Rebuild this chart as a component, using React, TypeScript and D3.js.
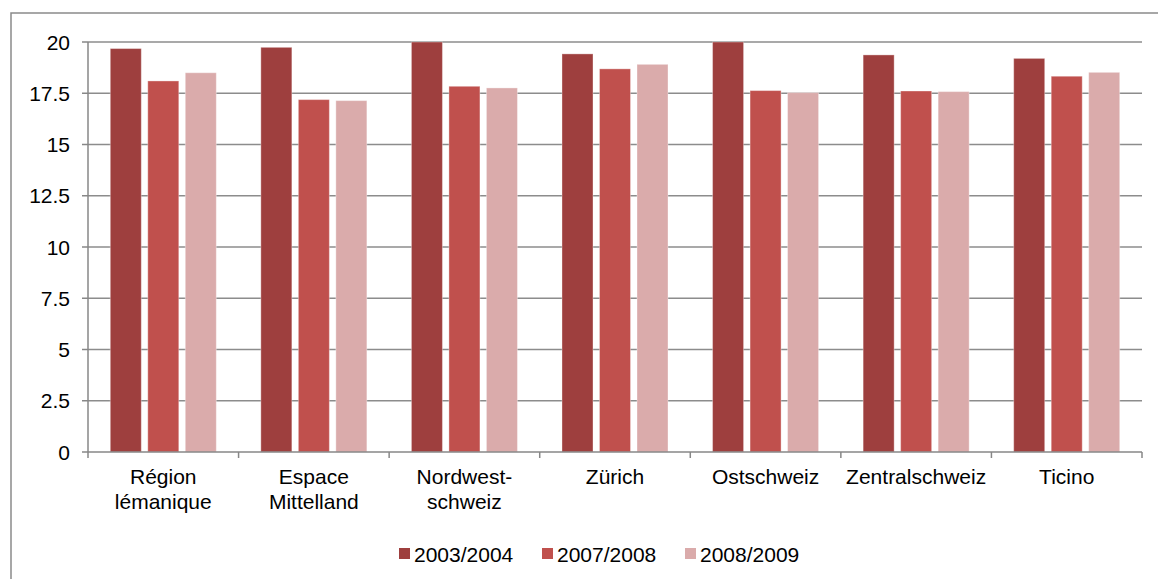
import React, { useEffect, useRef } from 'react';
import * as d3 from 'd3';

const regions = [
  ['Région', 'lémanique'],
  ['Espace', 'Mittelland'],
  ['Nordwest-', 'schweiz'],
  ['Zürich'],
  ['Ostschweiz'],
  ['Zentralschweiz'],
  ['Ticino']
];
const seriesNames = ['2003/2004', '2007/2008', '2008/2009'];
const seriesColors = ['#9e3f3e', '#c0504d', '#daabab'];
const v2003 = [19.68, 19.74, 20, 19.42, 20, 19.37, 19.2];
const v2007 = [18.1, 17.19, 17.84, 18.69, 17.63, 17.61, 18.33];
const v2008 = [18.5, 17.14, 17.76, 18.91, 17.53, 17.58, 18.52];
const yTicks = [0, 2.5, 5, 7.5, 10, 12.5, 15, 17.5, 20];

const W = 1158;
const H = 579;

export default function App() {
  const svgRef = useRef<SVGSVGElement>(null);

  useEffect(() => {
    if (!svgRef.current) return;
    const svg = d3.select(svgRef.current);
    svg.selectAll('*').remove();

    const font = '"Liberation Sans", Arial, sans-serif';
    const left = 88, right = 1142, top = 42, bottom = 452;
    const axisColor = '#878787';

    // outer chart frame
    svg.append('path')
      .attr('d', `M11,${H + 5} L11,13 L${W + 5},13`)
      .attr('fill', 'none')
      .attr('stroke', '#8a8a8a')
      .attr('stroke-width', 1.5);

    const names = regions.map(r => r.join(' '));
    const x = d3.scaleBand<string>().domain(names).range([left, right]);
    const xs = d3.scaleBand<string>()
      .domain(seriesNames)
      .range([0, x.bandwidth()])
      .paddingInner(0.173)
      .paddingOuter(0.594);
    const y = d3.scaleLinear().domain([0, 20]).range([bottom, top]);

    // gridlines
    svg.append('g')
      .selectAll('line')
      .data(yTicks.filter(t => t > 0))
      .join('line')
      .attr('x1', left).attr('x2', right)
      .attr('y1', d => y(d)).attr('y2', d => y(d))
      .attr('stroke', '#8c8c8c')
      .attr('stroke-width', 1.6);

    // bars
    const allSeries = [v2003, v2007, v2008];
    const g = svg.append('g');
    allSeries.forEach((vals, si) => {
      g.append('g')
        .selectAll('rect')
        .data(vals)
        .join('rect')
        .attr('x', (_, i) => (x(names[i]) as number) + (xs(seriesNames[si]) as number))
        .attr('y', d => y(Math.min(d, 20)))
        .attr('width', xs.bandwidth())
        .attr('height', d => bottom - y(Math.min(d, 20)))
        .attr('fill', seriesColors[si])
        .attr('stroke', '#ffffff')
        .attr('stroke-opacity', 0.35)
        .attr('stroke-width', 1);
    });

    // y axis
    const ya = svg.append('g');
    ya.append('line')
      .attr('x1', left).attr('x2', left)
      .attr('y1', top).attr('y2', bottom)
      .attr('stroke', axisColor).attr('stroke-width', 1.5);
    ya.selectAll('line.tick')
      .data(yTicks)
      .join('line')
      .attr('class', 'tick')
      .attr('x1', left - 6).attr('x2', left)
      .attr('y1', d => y(d)).attr('y2', d => y(d))
      .attr('stroke', axisColor).attr('stroke-width', 1.5);
    ya.selectAll('text')
      .data(yTicks)
      .join('text')
      .attr('x', 70)
      .attr('y', d => y(d))
      .attr('dy', '0.36em')
      .attr('text-anchor', 'end')
      .style('font-family', font)
      .style('font-size', '21px')
      .attr('fill', '#000')
      .text(d => String(d));

    // x axis
    const xa = svg.append('g');
    xa.append('line')
      .attr('x1', left).attr('x2', right)
      .attr('y1', bottom).attr('y2', bottom)
      .attr('stroke', axisColor).attr('stroke-width', 1.5);
    const edges = names.map(n => x(n) as number).concat([right]);
    xa.selectAll('line.tick')
      .data(edges)
      .join('line')
      .attr('class', 'tick')
      .attr('x1', d => d).attr('x2', d => d)
      .attr('y1', bottom).attr('y2', bottom + 6)
      .attr('stroke', axisColor).attr('stroke-width', 1.5);
    regions.forEach((lines, i) => {
      const t = xa.append('text')
        .attr('text-anchor', 'middle')
        .style('font-family', font)
        .style('font-size', '21px')
        .attr('fill', '#000');
      lines.forEach((ln, li) => {
        t.append('tspan')
          .attr('x', (x(names[i]) as number) + x.bandwidth() / 2)
          .attr('y', 484 + li * 25)
          .text(ln);
      });
    });

    // legend
    const legendX = [399, 542, 685];
    const lg = svg.append('g');
    seriesNames.forEach((s, i) => {
      lg.append('rect')
        .attr('x', legendX[i]).attr('y', 548)
        .attr('width', 11).attr('height', 11)
        .attr('fill', seriesColors[i]);
      lg.append('text')
        .attr('x', legendX[i] + 15)
        .attr('y', 562)
        .style('font-family', font)
        .style('font-size', '21px')
        .attr('fill', '#000')
        .text(s);
    });
  }, []);

  return (
    <svg
      ref={svgRef}
      width={W}
      height={H}
      style={{ position: 'absolute', left: 0, top: 0, background: '#fff' }}
    />
  );
}
